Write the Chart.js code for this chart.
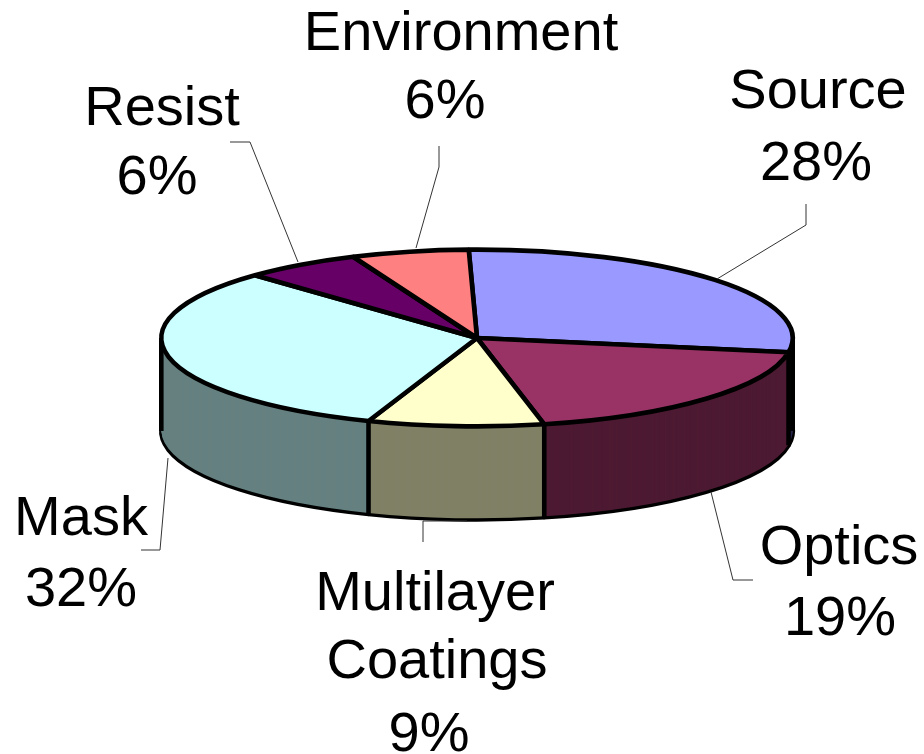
<!DOCTYPE html>
<html>
<head>
<meta charset="utf-8">
<style>html,body{margin:0;padding:0;background:#fff}canvas{display:block}</style>
<script src="https://cdn.jsdelivr.net/npm/chart.js@4"></script>
</head>
<body>
<canvas id="c" width="924" height="754"></canvas>
<script>
const categories = ['Source', 'Optics', 'Multilayer Coatings', 'Mask', 'Resist', 'Environment'];
const shares = [28, 19, 9, 32, 6, 6];
const topColors = ['#9999FF', '#993366', '#FFFFCC', '#CCFFFF', '#660066', '#FF8080'];
const wallColors = ['#26264D', '#4D1A33', '#808066', '#668080', '#330033', '#804040'];

// Annotation layout (text anchors per line and leader polylines)
const labelAnchors = [
  [[818, 93], [816, 165]],
  [[839, 549], [840, 620]],
  [[435, 595], [437, 663], [429, 736]],
  [[81, 520], [81, 591]],
  [[162, 110], [157, 179]],
  [[461, 35], [445, 103]]
];
const leaders = [
  [[806, 204], [806, 225], [717, 279]],
  [[711, 492], [733, 580], [753, 580]],
  [[467, 521], [423, 521], [423, 542]],
  [[168, 458], [160, 550], [141, 550]],
  [[230, 142], [250, 142], [298, 262]],
  [[439, 146], [439, 167], [416, 248]]
];
const squash = 89 / 318, depth = 93, edge = 4.6;

function labelLines(i) {
  const words = categories[i].split(' ');
  return [...words, shares[i] + '%'];
}
function project(ctx, cy) {
  ctx.translate(0, cy);
  ctx.scale(1, squash);
  ctx.translate(0, -cy);
}
function uniformStroke(ctx) {
  const orig = ctx.stroke;
  ctx.stroke = function (...a) {
    ctx.save();
    ctx.setTransform(1, 0, 0, 1, 0, 0);
    orig.apply(ctx, a);
    ctx.restore();
  };
  return () => { delete ctx.stroke; };
}
function drawWithStyle(arc, ctx, style) {
  const saved = arc.options;
  const o = Object.create(saved);
  Object.assign(o, style);
  arc.options = o;
  arc.draw(ctx);
  arc.options = saved;
}

const pie3d = {
  id: 'pie3d',
  beforeDatasetsDraw(chart) {
    const ctx = chart.ctx;
    const arcs = chart.getDatasetMeta(0).data;
    const cx = arcs[0].x, cy = arcs[0].y, r = arcs[0].outerRadius;
    this._unpatch = uniformStroke(ctx);
    // bottom rim with outline, then solid layers upward
    ctx.save();
    ctx.translate(0, depth);
    project(ctx, cy);
    arcs.forEach((a, i) => drawWithStyle(a, ctx, {backgroundColor: wallColors[i], borderColor: '#000', borderWidth: edge}));
    ctx.restore();
    for (let d = depth - 1; d >= 0; d--) {
      ctx.save();
      ctx.translate(0, d);
      project(ctx, cy);
      arcs.forEach((a, i) => drawWithStyle(a, ctx, {backgroundColor: wallColors[i], borderColor: wallColors[i], borderWidth: 0}));
      ctx.restore();
    }
    // vertical seams on the visible front wall and the two silhouette edges
    ctx.strokeStyle = '#000';
    ctx.lineWidth = edge;
    const seam = ang => {
      const x = cx + r * Math.cos(ang), y = cy + r * squash * Math.sin(ang);
      ctx.beginPath(); ctx.moveTo(x, y); ctx.lineTo(x, y + depth); ctx.stroke();
    };
    arcs.forEach(a => {
      if (Math.sin(a.startAngle) > 0) seam(a.startAngle);
    });
    seam(0); seam(Math.PI);
    ctx.save();
    project(ctx, cy);
  },
  afterDatasetsDraw(chart) {
    const ctx = chart.ctx;
    ctx.restore();
    this._unpatch();
    ctx.strokeStyle = '#333';
    ctx.lineWidth = 1;
    leaders.forEach(pts => {
      ctx.beginPath();
      pts.forEach((p, i) => i ? ctx.lineTo(p[0], p[1]) : ctx.moveTo(p[0], p[1]));
      ctx.stroke();
    });
    ctx.fillStyle = '#000';
    ctx.font = '56px "Liberation Sans", Arial, sans-serif';
    ctx.textAlign = 'center';
    ctx.textBaseline = 'middle';
    categories.forEach((_, i) => {
      labelLines(i).forEach((t, j) => ctx.fillText(t, labelAnchors[i][j][0], labelAnchors[i][j][1]));
    });
  }
};

new Chart(document.getElementById('c'), {
  type: 'pie',
  data: {
    labels: categories,
    datasets: [{
      data: shares,
      backgroundColor: topColors,
      borderColor: '#000',
      borderWidth: edge,
      clip: false
    }]
  },
  options: {
    responsive: false,
    animation: false,
    rotation: -1.5,
    layout: {padding: {left: 159, right: 129, top: 20, bottom: 98}},
    plugins: {legend: {display: false}, tooltip: {enabled: false}}
  },
  plugins: [pie3d]
});
</script>
</body>
</html>
